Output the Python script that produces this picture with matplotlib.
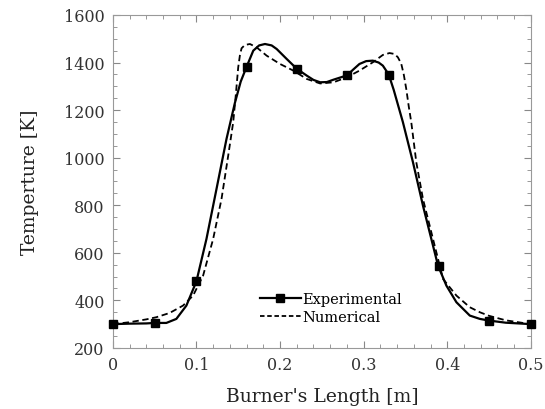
import numpy as np
import matplotlib
matplotlib.use("Agg")
import matplotlib.pyplot as plt
from matplotlib.ticker import MultipleLocator

# experimental measurement points (markers)
exp_x = [0.0, 0.05, 0.10, 0.16, 0.22, 0.28, 0.33, 0.39, 0.45, 0.50]
exp_t = [300, 305, 480, 1383, 1374, 1346, 1349, 546, 315, 300]

# experimental smooth curve
exp_cx = [0.0, 0.02, 0.04, 0.05, 0.064, 0.076, 0.088, 0.10, 0.112, 0.124, 0.136,
          0.146, 0.153, 0.16, 0.168, 0.175, 0.182, 0.19, 0.196, 0.208, 0.22,
          0.232, 0.24, 0.248, 0.256, 0.264, 0.28, 0.288, 0.295, 0.303, 0.311,
          0.318, 0.323, 0.33, 0.336, 0.347, 0.359, 0.371, 0.383, 0.389, 0.399,
          0.411, 0.427, 0.439, 0.45, 0.47, 0.50]
exp_ct = [300, 302, 303, 305, 305, 322, 378, 480, 658, 868, 1079,
          1230, 1320, 1382, 1450, 1472, 1478, 1472, 1457, 1415, 1374,
          1345, 1327, 1317, 1318, 1328, 1346, 1372, 1394, 1406, 1408,
          1400, 1387, 1350, 1285, 1149, 981, 798, 630, 546, 462,
          392, 336, 322, 315, 306, 300]

# numerical curve
num_x = [0.0, 0.02, 0.04, 0.052, 0.068, 0.084, 0.096, 0.108, 0.12, 0.13, 0.138,
         0.144, 0.147, 0.15, 0.152, 0.154, 0.158, 0.164, 0.172, 0.184, 0.20,
         0.216, 0.232, 0.248, 0.264, 0.28, 0.295, 0.311, 0.323, 0.331, 0.337,
         0.341, 0.345, 0.348, 0.351, 0.354, 0.357, 0.363, 0.371, 0.383, 0.395,
         0.411, 0.427, 0.439, 0.45, 0.47, 0.50]
num_t = [300, 308, 320, 329, 347, 378, 420, 504, 658, 826, 1008,
         1149, 1260, 1380, 1430, 1460, 1474, 1478, 1464, 1429, 1394,
         1366, 1331, 1312, 1317, 1338, 1366, 1401, 1432, 1440, 1436,
         1422, 1395, 1350, 1289, 1215, 1149, 981, 826, 658, 490,
         420, 371, 350, 335, 316, 300]

plt.rcParams['font.family'] = ['DejaVu Serif']
fig = plt.figure(figsize=(5.45, 4.10), dpi=100)
ax = fig.add_axes([0.207, 0.149, 0.767, 0.812])

ax.plot(exp_cx, exp_ct, color='black', lw=1.6)
ax.plot(exp_x, exp_t, 's', color='black', ms=6, ls='none', clip_on=False, zorder=3)
ax.plot(num_x, num_t, color='black', lw=1.3, ls=(0, (3.5, 2)))

# legend handles
h1, = ax.plot([], [], color='black', lw=1.6, marker='s', ms=6, label='Experimental')
h2, = ax.plot([], [], color='black', lw=1.3, ls=(0, (2.5, 1.5)), label='Numerical')
ax.legend(handles=[h1, h2], loc='center left', bbox_to_anchor=(0.32, 0.12),
          frameon=False, fontsize=10.5, handlelength=2.8, handletextpad=0.1,
          labelspacing=0.3)

ax.set_xlim(0, 0.5)
ax.set_ylim(200, 1600)
ax.xaxis.set_major_locator(MultipleLocator(0.1))
ax.xaxis.set_minor_locator(MultipleLocator(0.02))
ax.yaxis.set_major_locator(MultipleLocator(200))
ax.yaxis.set_minor_locator(MultipleLocator(50))
ax.set_xticks([0, 0.1, 0.2, 0.3, 0.4, 0.5])
ax.set_xticklabels(['0', '0.1', '0.2', '0.3', '0.4', '0.5'])
ax.tick_params(which='both', direction='in', top=True, right=True, colors='#888888',
               labelcolor='#333333', labelsize=11.5)
ax.tick_params(which='major', length=5, pad=6)
ax.tick_params(which='minor', length=3)
for s in ax.spines.values():
    s.set_color('#999999')

ax.set_xlabel("Burner's Length [m]", fontsize=13.5, color='#222222', labelpad=10)
ax.set_ylabel("Temperture [K]", fontsize=13.5, color='#222222', labelpad=18)

fig.savefig('out.png', dpi=100)
